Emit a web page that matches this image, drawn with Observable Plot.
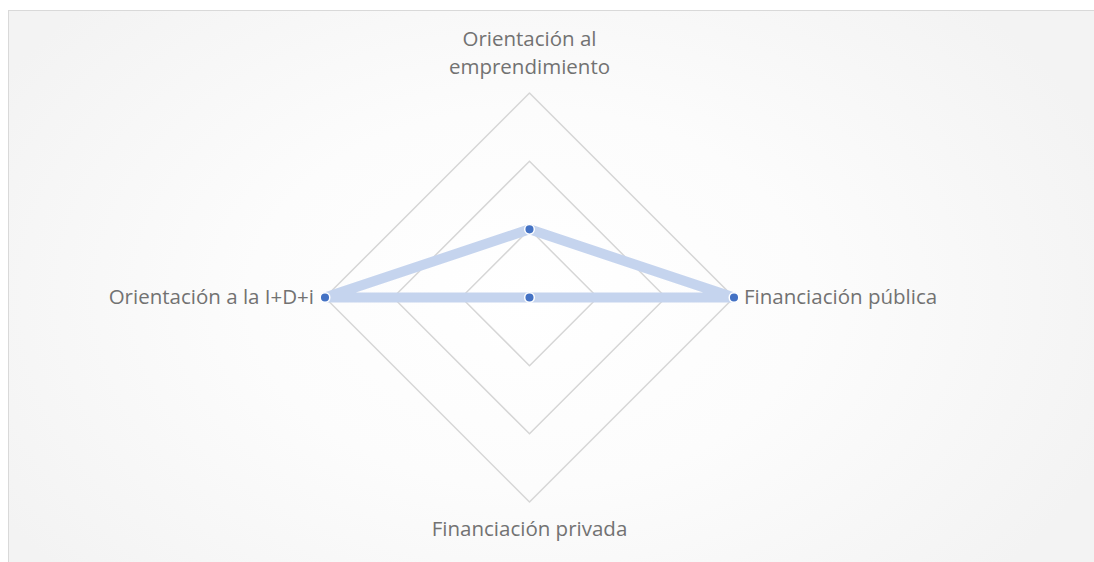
<!DOCTYPE html>
<html>
<head>
<meta charset="utf-8">
<script src="https://cdn.jsdelivr.net/npm/d3@7"></script>
<script src="https://cdn.jsdelivr.net/npm/@observablehq/plot@0.6"></script>
<style>
  html, body { margin: 0; padding: 0; background: #ffffff; overflow: hidden; }
  #wrap { position: relative; width: 1094px; height: 562px; overflow: hidden; }
  #frame {
    position: absolute; left: 8px; top: 10px; width: 1100px; height: 600px;
    border-top: 1.5px solid #d9d9d9; border-left: 1.5px solid #d9d9d9;
    background: radial-gradient(ellipse 620px 420px at 521px 287px, #ffffff 0%, #fcfcfc 45%, #f3f3f3 100%);
  }
  #chart { position: absolute; left: 0; top: 0; }
</style>
</head>
<body>
<div id="wrap"><div id="frame"></div><div id="chart"></div></div>
<script>
// Data
const categories = ["Orientación al emprendimiento", "Financiación pública", "Financiación privada", "Orientación a la I+D+i"];
const categoryLabels = ["Orientación al\nemprendimiento", "Financiación pública", "Financiación privada", "Orientación a la I+D+i"];
const seriesValues = [1, 3, 0, 3];
const gridLevels = [1, 2, 3];
const maxValue = 3;

// Layout
const W = 1094, H = 562;
const cx = 529, cy = 297, R = 204.5;
const k = R / maxValue;

const n = categories.length;
const angle = i => Math.PI / 2 - (2 * Math.PI * i) / n;
const pt = (v, i) => ({x: v * Math.cos(angle(i)), y: v * Math.sin(angle(i))});

const gridData = gridLevels.flatMap(l =>
  d3.range(n + 1).map(i => ({level: l, ...pt(l, i % n)}))
);
const seriesData = d3.range(n + 1).map(i => ({name: categories[i % n], ...pt(seriesValues[i % n], i % n)}));
const markerData = categories.map((c, i) => ({name: c, ...pt(seriesValues[i], i)}));
const labelData = categoryLabels.map((t, i) => ({label: t, i, ...pt(maxValue, i)}));

const font = "'Open Sans', 'Noto Sans', sans-serif";
const labelColor = "#727272";
const fs = 20.5;

const chart = Plot.plot({
  width: W, height: H,
  margin: 0,
  x: {domain: [-cx / k, (W - cx) / k], range: [0, W], axis: null},
  y: {domain: [-(H - cy) / k, cy / k], range: [H, 0], axis: null},
  style: {background: "transparent", fontFamily: font},
  marks: [
    Plot.line(gridData, {x: "x", y: "y", z: "level", stroke: "#d6d6d6", strokeWidth: 1.5}),
    Plot.line(seriesData, {x: "x", y: "y", stroke: "#c5d4ee", strokeWidth: 10, strokeLinejoin: "round"}),
    Plot.dot(markerData, {x: "x", y: "y", r: 4.8, fill: "#4472c4", stroke: "#ffffff", strokeWidth: 1.5}),
    Plot.text(labelData.filter(d => d.i === 0), {x: "x", y: "y", text: "label", textAnchor: "middle", lineAnchor: "bottom", dy: -19, fontSize: fs, lineHeight: 1.37, fill: labelColor}),
    Plot.text(labelData.filter(d => d.i === 1), {x: "x", y: "y", text: "label", textAnchor: "start", dx: 10, fontSize: fs, fill: labelColor}),
    Plot.text(labelData.filter(d => d.i === 2), {x: "x", y: "y", text: "label", textAnchor: "middle", lineAnchor: "top", dy: 19, fontSize: fs, fill: labelColor}),
    Plot.text(labelData.filter(d => d.i === 3), {x: "x", y: "y", text: "label", textAnchor: "end", dx: -11, fontSize: fs, fill: labelColor})
  ]
});
document.getElementById("chart").appendChild(chart);
</script>
</body>
</html>
